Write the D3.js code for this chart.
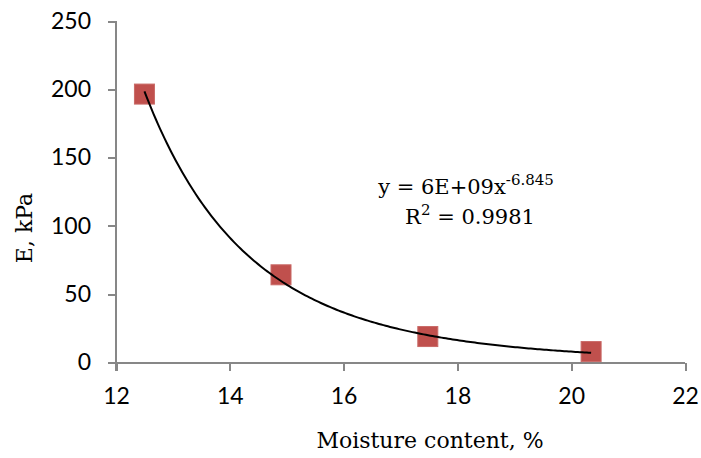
<!DOCTYPE html>
<html>
<head>
<meta charset="utf-8">
<script src="https://cdn.jsdelivr.net/npm/d3@7"></script>
<style>
  html, body { margin: 0; padding: 0; background: #fff; }
  svg { display: block; }
  .tick text { font-family: Lato, "Open Sans", sans-serif; font-size: 23px; fill: #000; }
  .axis path, .axis line { stroke: #878787; stroke-width: 2; shape-rendering: crispEdges; }
  .title { font-family: "DejaVu Serif", "Liberation Serif", serif; font-size: 22px; fill: #000; }
  .eq { font-family: "DejaVu Serif", "Liberation Serif", serif; font-size: 21px; fill: #000; }
</style>
</head>
<body>
<svg id="chart" width="701" height="458"></svg>
<script>
// Measured soil samples: moisture content (%) and modulus E (kPa)
const moisture = [12.5, 14.9, 17.48, 20.35];
const modulus  = [196.5, 64.2, 19.0, 8.0];

// Axis ticks
const xTicks = [12, 14, 16, 18, 20, 22];
const yTicks = [0, 50, 100, 150, 200, 250];

// Power trendline y = a * x^b
const trendCoef = 6.4e9;
const trendExp  = -6.845;
const trendLabel = "y = 6E+09x";
const trendExpLabel = "-6.845";
const r2Label = "R";
const r2Value = " = 0.9981";

const svg = d3.select("#chart");

const x = d3.scaleLinear().domain([12, 22]).range([116, 685]);
const y = d3.scaleLinear().domain([0, 250]).range([362.5, 21]);

// Y axis
svg.append("g")
  .attr("class", "axis")
  .attr("transform", "translate(116,0)")
  .call(d3.axisLeft(y).tickValues(yTicks).tickSize(8).tickSizeOuter(0).tickPadding(17))
  .call(g => g.select(".domain").attr("d", `M0,${y(0) + 8}V${y(250)}`));

// X axis
svg.append("g")
  .attr("class", "axis")
  .attr("transform", `translate(0,${y(0)})`)
  .call(d3.axisBottom(x).tickValues(xTicks).tickSize(8).tickSizeOuter(0).tickPadding(17))
  .call(g => g.select(".domain").attr("d", `M${x(12) - 8},0H${x(22)}`));

// Trendline across the measured range
const xs = d3.range(0, 201).map(i => moisture[0] + (moisture[moisture.length - 1] - moisture[0]) * i / 200);
const line = d3.line().x(d => x(d)).y(d => y(trendCoef * Math.pow(d, trendExp)));

// Data markers
const size = 20;
svg.selectAll("rect.pt")
  .data(moisture.map((m, i) => [m, modulus[i]]))
  .join("rect")
  .attr("class", "pt")
  .attr("x", d => x(d[0]) - size / 2)
  .attr("y", d => y(d[1]) - size / 2)
  .attr("width", size)
  .attr("height", size)
  .attr("fill", "#c0504d")
  .attr("stroke", "#c96a67")
  .attr("stroke-width", 1);

// Trendline drawn over the markers
svg.append("path")
  .datum(xs)
  .attr("d", line)
  .attr("fill", "none")
  .attr("stroke", "#000")
  .attr("stroke-width", 2);

// Equation label
const eq = svg.append("text").attr("class", "eq").attr("x", 466).attr("y", 194).attr("text-anchor", "middle");
eq.append("tspan").text(trendLabel);
eq.append("tspan").attr("dy", -9).attr("font-size", 15).text(trendExpLabel);

const r2 = svg.append("text").attr("class", "eq").attr("x", 470).attr("y", 224).attr("text-anchor", "middle");
r2.append("tspan").text(r2Label);
r2.append("tspan").attr("dy", -9).attr("font-size", 15).text("2");
r2.append("tspan").attr("dy", 9).text(r2Value);

// Axis titles
svg.append("text").attr("class", "title")
  .attr("x", 430).attr("y", 448).attr("text-anchor", "middle")
  .text("Moisture content, %");

svg.append("text").attr("class", "title")
  .attr("transform", "translate(32,228) rotate(-90)")
  .attr("text-anchor", "middle")
  .text("E, kPa");
</script>
</body>
</html>
